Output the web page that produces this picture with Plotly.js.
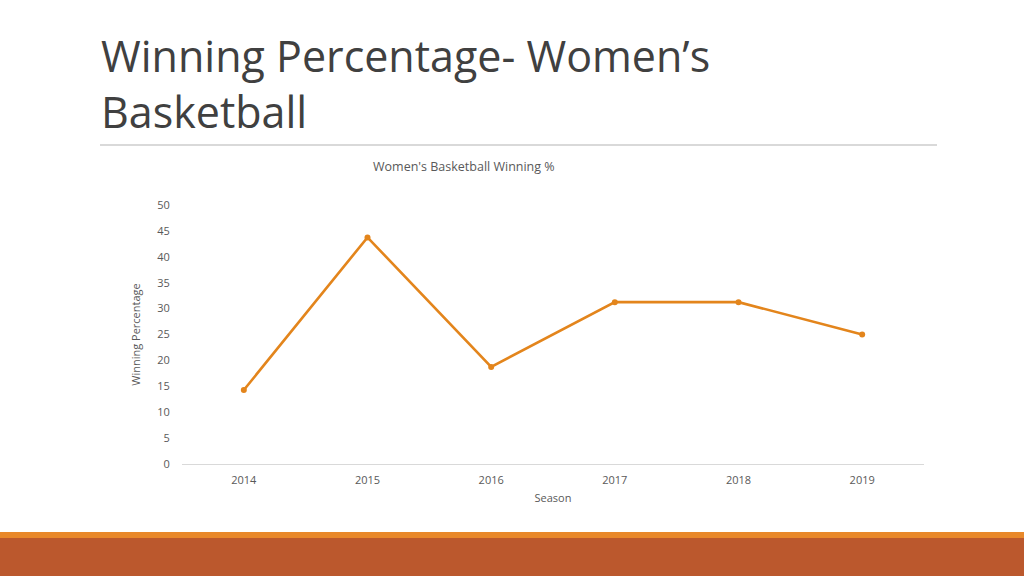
<!DOCTYPE html>
<html><head><meta charset="utf-8">
<script src="https://cdn.plot.ly/plotly-3.0.1.min.js"></script>
<style>html,body{margin:0;padding:0;background:#fff;}#chart{width:1024px;height:576px;}</style>
</head><body><div id="chart"></div>
<script>
const seasons = ['2014','2015','2016','2017','2018','2019'];
const winPct = [14.29, 43.75, 18.75, 31.25, 31.25, 25];
const yTicks = [0,5,10,15,20,25,30,35,40,45,50];

const W=1024,H=576,L=182,R=100,T=205,B=112;
const pw=W-L-R, ph=H-T-B;
const px=x=>(x-L)/pw, py=y=>(H-B-y)/ph;

const trace={x:seasons,y:winPct,type:'scatter',mode:'lines+markers',
  line:{color:'#E3851C',width:2.6},marker:{color:'#E3851C',size:6},hoverinfo:'x+y'};

const layout={width:W,height:H,margin:{l:L,r:R,t:T,b:B},
  paper_bgcolor:'#fff',plot_bgcolor:'rgba(0,0,0,0)',showlegend:false,
  font:{family:'Open Sans, sans-serif',color:'#595959',size:11},
  xaxis:{type:'category',range:[-0.5,5.5],showgrid:false,zeroline:false,showline:true,
    linecolor:'#d9d9d9',linewidth:1,ticks:'outside',ticklen:6,tickcolor:'rgba(0,0,0,0)',
    tickfont:{size:11,color:'#595959'},
    title:{text:'Season',font:{size:11,color:'#595959'},standoff:8}},
  yaxis:{range:[0,50],tickvals:yTicks,showgrid:false,zeroline:false,showline:false,
    ticks:'outside',ticklen:9,tickcolor:'rgba(0,0,0,0)',tickfont:{size:11,color:'#595959'},
    title:{text:'Winning Percentage',font:{size:11,color:'#595959'},standoff:14}},
  annotations:[
    {text:"Women's Basketball Winning %",xref:'paper',yref:'paper',x:px(464),y:py(166),
     xanchor:'center',yanchor:'middle',showarrow:false,font:{size:12.5,color:'#595959'}},
    {text:"Winning Percentage- Women’s<br>Basketball",xref:'paper',yref:'paper',x:px(99),y:py(24),
     xanchor:'left',yanchor:'top',align:'left',showarrow:false,
     font:{family:'Open Sans, sans-serif',size:43,color:'#404040'}}
  ],
  shapes:[
    {type:'line',xref:'paper',yref:'paper',x0:px(100),x1:px(937),y0:py(145),y1:py(145),line:{color:'#d9d9d9',width:2}},
    {type:'rect',xref:'paper',yref:'paper',x0:px(0),x1:px(1024),y0:py(532),y1:py(538),line:{width:0},fillcolor:'#E8882A'},
    {type:'rect',xref:'paper',yref:'paper',x0:px(0),x1:px(1024),y0:py(538),y1:py(576),line:{width:0},fillcolor:'#BB582D'}
  ]};
Plotly.newPlot('chart',[trace],layout,{displayModeBar:false,staticPlot:true});
</script></body></html>
